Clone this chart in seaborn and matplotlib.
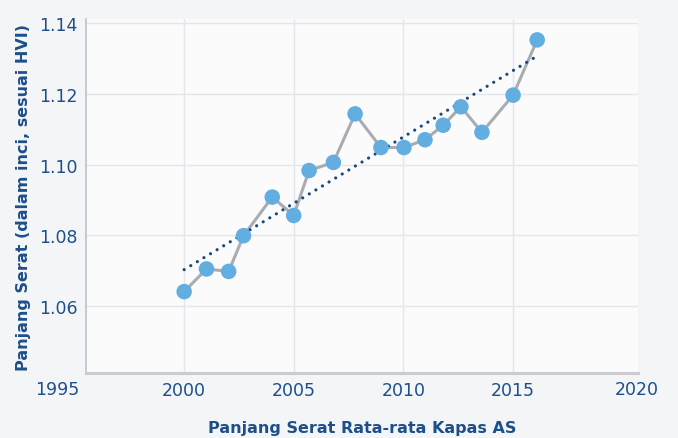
import numpy as np
import pandas as pd
import matplotlib
matplotlib.use("Agg")
import matplotlib.pyplot as plt
import seaborn as sns

# Data
tahun = [2000.0, 2001.02, 2002.03, 2002.71, 2004.02, 2005.0, 2005.7, 2006.81, 2007.8,
         2008.98, 2010.03, 2010.99, 2011.82, 2012.63, 2013.59, 2015.01, 2016.11]
panjang = [1.0641, 1.0705, 1.0698, 1.0799, 1.0908, 1.0856, 1.0983, 1.1006, 1.1143,
           1.1048, 1.1048, 1.1070, 1.1111, 1.1163, 1.1091, 1.1196, 1.1352]
tren_x = [2000.0, 2016.2]
tren_y = [1.0703, 1.1310]
yticks = [1.06, 1.08, 1.10, 1.12, 1.14]
xticks = [2000, 2005, 2010, 2015]

df = pd.DataFrame({"tahun": tahun, "panjang": panjang})
df_tren = pd.DataFrame({"tahun": tren_x, "panjang": tren_y})

sns.set_theme(style="white")
plt.rcParams["font.family"] = ["DejaVu Sans"]

teks = "#1d4f8a"
fig = plt.figure(figsize=(6.78, 4.39), dpi=100, facecolor="#f4f5f7")
ax = fig.add_axes([0.1268, 0.148, 0.8142, 0.8064])
ax.set_facecolor("#fbfbfc")

sns.lineplot(data=df, x="tahun", y="panjang", ax=ax, color="#a9adb1", linewidth=2.2,
             zorder=2, legend=False)
sns.lineplot(data=df_tren, x="tahun", y="panjang", ax=ax, color="#15497f", linewidth=2.3,
             linestyle=(0, (0.01, 2.4)), dash_capstyle="round", zorder=3, legend=False)
sns.scatterplot(data=df, x="tahun", y="panjang", ax=ax, color="#63aee0", s=125,
                edgecolor="none", zorder=4, legend=False)

ax.set_xlim(1995.52, 2020.71)
ax.set_ylim(1.0411, 1.1411)
ax.set_xticks(xticks)
ax.set_yticks(yticks)
ax.set_yticklabels([f"{v:.2f}" for v in yticks])
ax.tick_params(axis="both", length=0, labelsize=12.5, labelcolor=teks, pad=6)
ax.grid(True, color="#e3e6ea", linewidth=1.0)
ax.set_axisbelow(True)

# label tepi sumbu x
ax.text(-0.052, -0.02, "1995", transform=ax.transAxes, ha="center", va="top",
        fontsize=12.5, color=teks)
ax.text(0.998, -0.02, "2020", transform=ax.transAxes, ha="center", va="top",
        fontsize=12.5, color=teks)

for s in ["top", "right"]:
    ax.spines[s].set_visible(False)
ax.spines["left"].set_color("#b9c3cd")
ax.spines["left"].set_linewidth(1.2)
ax.spines["bottom"].set_color("#c9cdd2")
ax.spines["bottom"].set_linewidth(2.2)

ax.set_xlabel("Panjang Serat Rata-rata Kapas AS", fontsize=11.5, fontweight="bold",
              color=teks, labelpad=15)
ax.set_ylabel("Panjang Serat (dalam inci, sesuai HVI)", fontsize=11.5, fontweight="bold",
              color=teks, labelpad=6)

fig.savefig("out.png", dpi=100, facecolor=fig.get_facecolor())
